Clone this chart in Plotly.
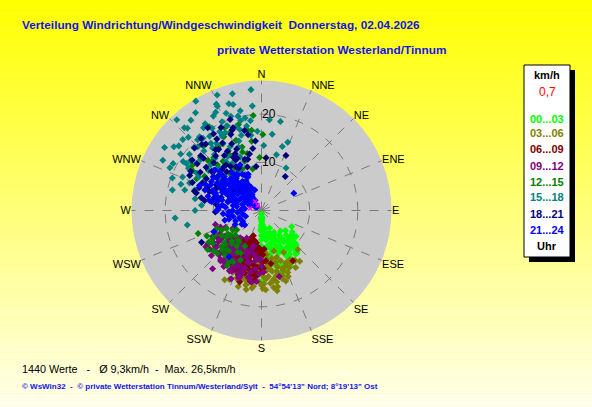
import plotly.graph_objects as go

W, H = 592, 407

# wind direction (deg) / speed (km/h) per 3-hour block
lime_dir = [180, 178, 181, 179, 180, 177, 182, 176, 180, 179,
            170, 165, 160, 155, 150, 145, 140, 135, 130, 125,
            168, 162, 158, 152, 147, 142, 138, 172, 166, 160,
            156, 150, 144, 137, 175, 170, 163, 157, 152, 148,
            118, 136, 145, 167, 179, 185, 190, 172, 155, 140,
            178, 181, 177, 174, 171, 164, 159, 153, 146, 141,
            139, 134, 149, 157, 162, 169, 174, 152, 158, 166,
            144, 132, 127, 161, 183,
            178, 180, 182, 175, 168, 160, 154, 148, 143, 138,
            133, 128, 171, 165, 157, 151, 146, 140, 135, 180,
            179, 176, 173, 163, 156]
lime_spd = [0.7, 1.2, 1.8, 2.4, 3.0, 3.6, 4.2, 4.8, 5.2, 2.8,
            4.5, 5.5, 6.0, 6.8, 7.5, 8.0, 8.8, 7.2, 6.5, 7.8,
            7.8, 8.5, 9.5, 10.2, 10.8, 11.5, 9.8, 10.5, 11.8, 12.5,
            6.5, 5.2, 6.2, 5.8, 9.0, 12.8, 13.5, 8.2, 9.0, 12.0,
            7.1, 8.5, 10.1, 5.9, 14.5, 11.0, 9.5, 3.5, 4.0, 11.2,
            2.0, 3.3, 4.4, 5.8, 6.2, 7.0, 7.2, 8.2, 9.2, 9.5,
            10.5, 9.8, 11.8, 12.2, 10.8, 9.5, 8.0, 13.0, 6.8, 8.8,
            7.0, 8.0, 9.0, 13.8, 7.2,
            1.5, 2.2, 3.9, 3.0, 4.0, 5.0, 5.8, 6.8, 7.8, 8.2,
            8.8, 8.2, 7.5, 8.0, 9.0, 11.0, 12.5, 11.5, 10.2, 6.0,
            7.5, 10.2, 11.5, 11.8, 13.0]

olive_dir = [208, 191, 169, 143, 137, 207, 171, 175, 180, 185,
             160, 165, 170, 195, 200, 178, 182, 188, 155, 150,
             162, 173, 186, 198, 203, 168, 158, 146, 152, 176,
             190, 184, 166, 174, 196, 212, 200, 180, 163, 157,
             172, 178, 183, 187, 193, 164, 168, 176, 181, 189,
             194, 199, 205, 159, 154, 149, 167, 174, 186, 179,
             171, 162, 191, 197, 183,
             160, 165, 170, 175, 180, 185, 190, 195, 200, 205,
             163, 168, 173, 178, 188, 193, 198, 203, 156, 151,
             177, 182, 187, 192, 171, 166, 161, 197, 184, 174]
olive_spd = [16.3, 16.7, 17.0, 13.2, 11.1, 13.9, 11.5, 12.5, 13.0, 12.2,
             12.8, 13.5, 14.5, 11.5, 12.0, 10.5, 9.8, 10.8, 12.0, 11.8,
             10.2, 9.2, 13.8, 13.2, 10.8, 15.2, 14.8, 12.5, 9.8, 8.5,
             9.5, 11.0, 11.2, 13.8, 14.5, 12.8, 9.2, 15.5, 8.8, 14.0,
             12.2, 13.8, 11.8, 12.8, 14.8, 12.2, 10.2, 14.2, 11.2, 13.2,
             12.2, 15.2, 14.2, 11.2, 13.2, 13.8, 13.8, 10.2, 15.8, 16.2,
             14.8, 14.2, 12.0, 10.8, 10.4,
             13.2, 11.2, 12.8, 11.8, 12.8, 13.8, 15.2, 13.8, 14.8, 15.8,
             14.8, 16.2, 15.2, 15.2, 14.2, 12.8, 12.8, 13.0, 12.5, 12.5,
             16.5, 14.8, 16.2, 15.8, 16.2, 13.0, 15.5, 16.5, 11.0, 11.0]

maroon_dir = [194, 190, 198, 202, 186, 210, 215, 188, 192, 200,
              196, 205, 183, 178, 208, 212, 195, 199, 187, 203,
              197, 175, 170, 220, 224, 193, 201, 189, 206, 148,
              198, 185, 191, 207, 213, 180, 200, 176,
              190, 194, 198, 202, 206, 186, 182, 195, 200, 210,
              204, 192, 188, 196, 208, 184, 199, 214, 218, 178,
              193, 197, 201, 187, 191, 205, 209, 185, 189, 203,
              181, 184, 187, 190, 193, 196, 199, 202, 205, 208,
              211, 214, 217, 183, 189, 195, 201, 207, 213, 219,
              186, 192, 198, 204, 210, 179, 185, 191, 197, 203]
maroon_spd = [8.1, 9.0, 7.5, 8.8, 10.0, 9.5, 8.2, 11.5, 6.5, 10.8,
              12.0, 7.0, 7.8, 9.2, 11.8, 12.5, 13.5, 6.2, 12.8, 9.8,
              15.5, 10.5, 11.2, 10.2, 8.5, 10.8, 11.2, 8.5, 13.2, 12.3,
              5.5, 13.8, 6.8, 7.8, 10.5, 12.2, 14.2, 8.0,
              7.2, 9.8, 10.2, 7.2, 9.0, 8.8, 10.2, 11.8, 12.8, 10.8,
              11.2, 12.5, 13.2, 8.8, 7.5, 11.8, 9.5, 11.2, 9.8, 12.0,
              10.8, 13.0, 6.2, 9.8, 7.8, 12.2, 8.2, 10.0, 14.8, 13.5,
              8.5, 9.5, 12.2, 13.8, 8.2, 7.2, 11.8, 9.8, 10.8, 12.8,
              9.2, 12.8, 11.2, 13.2, 6.8, 10.2, 13.2, 9.2, 7.2, 8.2,
              14.5, 11.2, 12.8, 8.2, 11.2, 10.8, 7.8, 14.2, 8.2, 6.8]

purple_dir = [233, 253, 165, 200, 210, 220, 205, 215, 225, 195,
              190, 230, 240, 212, 218, 198, 185, 228, 236, 208,
              202, 222, 245, 192, 180, 214, 204, 226, 238, 197,
              188, 216, 234, 206, 178, 248, 220,
              196, 203, 211, 219, 227, 231, 207, 213, 221, 199,
              194, 186, 217, 224, 209, 201, 235, 242, 229, 191,
              182, 205, 214, 223, 237,
              187, 193, 199, 205, 211, 217, 223, 229, 235, 241,
              184, 190, 196, 202, 208, 214, 220, 226, 232, 238,
              181, 189, 197, 209, 215, 221, 227, 233, 239, 246]
purple_spd = [13.4, 10.0, 14.2, 9.5, 10.5, 11.0, 8.0, 8.8, 12.5, 11.2,
              13.0, 9.0, 10.5, 12.8, 7.2, 14.5, 9.8, 14.0, 12.0, 6.5,
              12.2, 11.8, 8.2, 7.5, 11.5, 9.5, 15.5, 7.5, 7.0, 10.2,
              15.0, 13.2, 11.0, 14.0, 12.8, 9.2, 15.8,
              9.2, 10.8, 12.0, 13.5, 9.8, 11.8, 13.2, 10.0, 8.5, 12.8,
              8.2, 12.2, 11.5, 12.8, 9.2, 13.8, 10.2, 11.5, 8.2, 14.2,
              13.2, 11.8, 14.0, 10.5, 13.8,
              10.5, 11.2, 14.8, 12.8, 8.2, 12.8, 9.2, 12.8, 9.2, 9.8,
              14.8, 9.2, 12.5, 8.8, 14.2, 10.8, 13.2, 10.5, 12.2, 13.2,
              10.2, 14.8, 13.5, 11.8, 9.8, 9.8, 11.2, 8.8, 10.8, 10.8]

green_dir = [227, 227, 242, 203, 215, 235, 220, 230, 210, 245,
             238, 225, 218, 232, 248, 212, 236, 205, 250, 222,
             305, 315, 320, 330, 340, 345, 350, 355, 310, 325,
             335, 300, 318, 342, 352, 328, 312, 338, 322, 296,
             1, 358, 348, 332, 308,
             224, 229, 233, 219, 214, 240, 244, 209, 226, 236,
             316, 326, 336, 306, 346, 321, 311, 331, 341, 301,
             221, 231, 239, 246, 216, 206, 212, 228, 234, 243,
             303, 313, 323, 333, 343, 353, 298, 308, 318, 328]
green_spd = [10.5, 7.5, 11.0, 11.2, 9.0, 8.5, 12.0, 13.0, 10.0, 12.5,
             9.8, 11.5, 7.8, 6.5, 10.0, 12.8, 12.2, 8.2, 14.0, 9.2,
             12.0, 14.5, 10.0, 13.5, 15.5, 18.5, 17.0, 19.8, 8.5, 11.5,
             9.5, 16.5, 18.0, 12.8, 14.5, 20.5, 11.0, 17.5, 13.0, 15.0,
             15.8, 11.0, 8.8, 7.0, 6.2,
             8.8, 10.2, 9.2, 10.8, 12.2, 11.8, 9.2, 12.2, 12.8, 7.2,
             13.2, 16.0, 18.8, 11.2, 12.2, 9.2, 16.8, 14.2, 10.8, 13.8,
             10.8, 8.2, 12.8, 10.8, 8.0, 9.8, 13.5, 11.2, 13.8, 8.2,
             17.2, 15.2, 12.2, 17.2, 13.8, 16.8, 10.2, 9.8, 14.8, 10.5]

teal_dir = [329, 339, 346, 355, 317, 290, 259, 329, 342, 345,
            5, 12, 21, 315, 302, 321, 288, 291, 306, 335,
            325, 318, 310, 300, 340, 350, 332, 312, 296, 338,
            322, 308, 345, 328, 352, 2, 315, 334, 320, 305,
            298, 343, 326, 313, 337, 30, 15, 280, 270, 330,
            348, 318, 324, 336, 310,
            300, 305, 310, 315, 320, 325, 330, 335, 340, 345,
            350, 355, 295, 285, 318, 322, 328, 332, 312, 308,
            302, 298, 292, 342, 338, 346, 326, 316, 306, 290,
            283, 287, 293, 297, 303, 307, 313, 317, 323, 327,
            333, 337, 343, 347, 353, 357, 8, 18, 275, 265]
teal_spd = [26.5, 25.7, 25.0, 25.2, 25.8, 19.7, 15.7, 19.9, 20.6, 17.4,
            18.9, 18.9, 15.2, 18.7, 18.4, 19.3, 17.6, 16.0, 16.7, 22.5,
            21.0, 14.5, 13.0, 15.5, 14.0, 19.5, 17.5, 22.0, 13.5, 12.0,
            16.5, 19.0, 22.8, 11.5, 15.8, 13.5, 12.5, 14.8, 20.0, 18.0,
            20.8, 18.2, 16.8, 10.5, 23.5, 10.2, 12.0, 14.0, 13.8, 9.5,
            21.2, 23.0, 12.5, 20.2, 11.0,
            17.5, 20.5, 16.5, 21.5, 15.2, 18.8, 16.0, 17.8, 21.5, 16.2,
            17.8, 21.8, 21.0, 16.5, 19.8, 23.8, 13.2, 18.5, 14.2, 21.8,
            19.2, 14.8, 15.5, 15.2, 19.0, 20.2, 24.5, 17.2, 22.5, 12.5,
            19.0, 14.5, 17.8, 23.0, 24.0, 13.8, 19.2, 23.5, 17.5, 21.5,
            22.0, 24.0, 23.2, 19.2, 18.8, 16.5, 16.0, 14.0, 12.5, 18.0]

navy_dir = [341, 296, 35, 24, 242, 268, 320, 330, 310, 315,
            325, 335, 305, 300, 345, 350, 355, 312, 322, 338,
            290, 285, 318, 328, 308, 332, 342, 302, 316, 326,
            280, 275, 352, 5, 310, 322, 336, 296, 305, 318,
            300, 310, 320, 330, 340, 315, 325, 335, 305, 295,
            312, 328, 318, 308, 298, 322, 332, 342, 290, 282,
            338, 348, 326, 316, 306, 296, 286, 320, 330, 310,
            285, 292, 299, 306, 313, 320, 327, 334, 341, 348,
            288, 303, 318, 333, 278, 293, 308, 323, 338, 353]
navy_spd = [20.0, 16.6, 8.6, 12.5, 14.1, 9.6, 12.0, 10.5, 11.5, 14.0,
            15.5, 13.0, 9.5, 13.2, 11.0, 16.0, 14.5, 17.0, 8.5, 8.0,
            11.5, 10.2, 18.5, 17.5, 10.0, 12.5, 9.5, 15.0, 7.5, 13.8,
            12.0, 9.0, 13.0, 11.0, 6.5, 10.2, 15.2, 8.2, 7.2, 9.0,
            10.8, 12.8, 14.8, 16.2, 17.8, 9.2, 11.2, 12.0, 12.2, 13.5,
            16.2, 18.8, 6.2, 14.6, 9.0, 12.0, 10.0, 11.2, 13.8, 12.8,
            17.0, 12.0, 7.2, 11.8, 16.5, 10.5, 14.5, 18.0, 14.2, 8.0,
            14.0, 15.5, 16.8, 17.8, 19.0, 19.5, 20.5, 19.2, 18.2, 17.0,
            8.8, 9.8, 10.8, 11.8, 9.5, 12.2, 13.2, 15.8, 13.8, 9.2]

blue_dir = [292, 311, 335, 342, 255, 229, 288, 281, 62, 215, 246,
            300, 305, 310, 315, 320, 325, 330, 295, 285, 290,
            298, 303, 308, 313, 318, 323, 328, 333, 338, 280,
            275, 270, 265, 260, 250, 240, 235, 300, 310, 320,
            302, 312, 322, 332, 292, 282, 272, 262, 306, 316,
            326, 296, 286, 276, 300, 310, 320, 330, 340, 290,
            288, 293, 297, 301, 304, 307, 309, 312, 314, 317,
            319, 321, 324, 327, 329, 331, 334, 336, 286, 283,
            278, 291, 299, 306, 313, 318, 326, 294, 302, 311,
            289, 296, 303, 316, 323, 284, 279, 273, 268, 258,
            300, 308, 315, 292, 305, 297, 310, 318, 325, 287,
            284, 289, 294, 299, 304, 309, 314, 319, 324, 329,
            287, 292, 297, 302, 307, 312, 317, 322, 327, 332,
            280, 285, 290, 295, 300, 305, 310, 315, 320, 325,
            270, 265, 255, 248, 242, 275, 262, 252, 296, 306]
blue_spd = [13.9, 12.8, 10.5, 4.5, 7.9, 4.6, 6.9, 11.0, 7.6, 11.8, 10.8,
            5.0, 6.0, 7.0, 8.0, 7.5, 6.5, 5.5, 9.0, 8.5, 4.0,
            3.0, 3.5, 4.5, 5.5, 4.0, 3.0, 2.5, 6.0, 7.5, 6.0,
            7.5, 6.0, 5.0, 4.0, 3.5, 4.5, 5.0, 10.0, 9.5, 9.0,
            8.0, 10.5, 10.0, 8.5, 11.0, 9.5, 9.0, 7.0, 2.0, 2.5,
            3.5, 6.5, 5.5, 3.5, 7.0, 8.5, 4.0, 5.0, 8.0, 10.5,
            4.2, 5.8, 6.8, 7.8, 4.8, 6.2, 8.2, 3.2, 5.2, 6.8,
            8.8, 5.8, 4.8, 7.2, 3.8, 6.2, 8.2, 5.2, 7.2, 9.2,
            8.2, 10.2, 9.8, 11.5, 11.8, 6.2, 9.2, 5.2, 3.8, 4.2,
            6.2, 8.2, 9.2, 3.2, 2.8, 7.2, 5.2, 4.2, 6.8, 6.0,
            1.5, 1.2, 1.8, 2.5, 2.2, 8.8, 7.6, 7.8, 6.8, 10.0,
            5.5, 6.5, 7.5, 8.5, 9.5, 9.0, 7.5, 6.0, 5.0, 4.2,
            9.5, 10.8, 11.8, 10.8, 10.2, 11.2, 8.8, 7.0, 6.0, 6.8,
            10.5, 11.5, 12.5, 12.8, 12.0, 12.2, 10.0, 9.2, 7.2, 8.8,
            9.2, 8.0, 7.0, 5.8, 6.2, 8.8, 6.5, 4.8, 3.0, 2.8]

pink_dir = [280, 324, 322]
pink_spd = [2.4, 2.3, 1.3]

groups = [
    ('00...03', '#00FF00', lime_dir, lime_spd),
    ('03...06', '#808000', olive_dir, olive_spd),
    ('06...09', '#800000', maroon_dir, maroon_spd),
    ('09...12', '#800080', purple_dir, purple_spd),
    ('12...15', '#008000', green_dir, green_spd),
    ('15...18', '#008080', teal_dir, teal_spd),
    ('18...21', '#000080', navy_dir, navy_spd),
    ('21...24', '#0000FF', blue_dir, blue_spd),
]

compass = ['N', 'NNE', 'NE', 'ENE', 'E', 'ESE', 'SE', 'SSE',
           'S', 'SSW', 'SW', 'WSW', 'W', 'WNW', 'NW', 'NNW']
compass_deg = [i * 22.5 for i in range(16)]

fig = go.Figure()
for name, color, d, s in groups:
    fig.add_trace(go.Scatterpolar(
        theta=d, r=s, mode='markers', name=name,
        marker=dict(symbol='diamond', size=5.4, color=color),
        hoverinfo='skip'))

fig.add_trace(go.Scatterpolar(
    theta=pink_dir, r=pink_spd, mode='markers',
    marker=dict(symbol='x-thin', size=4, color='#FF00FF',
                line=dict(color='#FF00FF', width=1.5)),
    hoverinfo='skip'))

cx, cy, rad = 261.5, 210.5, 130
fig.update_layout(
    width=W, height=H,
    margin=dict(l=0, r=0, t=0, b=0),
    paper_bgcolor='#FFFF60',
    showlegend=False,
    font=dict(family='Liberation Sans, Arial', color='black'),
    polar=dict(
        domain=dict(x=[(cx - rad) / W, (cx + rad) / W],
                    y=[1 - (cy + rad) / H, 1 - (cy - rad) / H]),
        bgcolor='#CBCBCB',
        angularaxis=dict(
            direction='clockwise', rotation=90,
            tickmode='array', tickvals=compass_deg, ticktext=compass,
            ticks='', showline=False,
            gridcolor='#7A7A7A', griddash='dash', gridwidth=1,
            tickfont=dict(size=11, color='black')),
        radialaxis=dict(
            range=[0, 27], tickvals=[10, 20], ticks='',
            angle=90, tickangle=90, side='clockwise',
            showline=False,
            gridcolor='#7A7A7A', griddash='dash', gridwidth=1,
            tickfont=dict(size=12, color='black')),
    ),
)

# yellow -> cream background gradient
shapes = []
n = 60
for i in range(n):
    t = i / (n - 1)
    b = int(0 + 235 * t)
    shapes.append(dict(type='rect', xref='paper', yref='paper',
                       x0=0, x1=1, y0=1 - (i + 1) / n, y1=1 - i / n,
                       fillcolor=f'rgb(255,255,{b})', line_width=0,
                       layer='below'))


def px(x):
    return x / W


def py(y):
    return 1 - y / H


# legend box with shadow
shapes.append(dict(type='rect', xref='paper', yref='paper',
                   x0=px(529), x1=px(575), y0=py(262), y1=py(70),
                   fillcolor='black', line_width=0, layer='above'))
shapes.append(dict(type='rect', xref='paper', yref='paper',
                   x0=px(524), x1=px(570), y0=py(257), y1=py(65),
                   fillcolor='white', line=dict(color='black', width=1),
                   layer='above'))
fig.update_layout(shapes=shapes)

ann = []


def text(x, y, s, size, color, bold=False, anchor='left'):
    ann.append(dict(x=px(x), y=py(y), xref='paper', yref='paper',
                    text=f'<b>{s}</b>' if bold else s, showarrow=False,
                    xanchor=anchor, yanchor='middle',
                    font=dict(size=size, color=color,
                              family='Liberation Sans, Arial')))


text(20, 25, 'Verteilung Windrichtung/Windgeschwindigkeit  Donnerstag, 02.04.2026',
     11.8, '#1414E6', bold=True)
text(215, 50, 'private Wetterstation Westerland/Tinnum', 11.8, '#1414E6', bold=True)

text(547, 75, 'km/h', 11, 'black', bold=True, anchor='center')
text(547, 92, '0,7', 12, '#FF0000', anchor='center')
legend_y = [119, 133, 149, 166, 182, 197, 214, 230]
for (name, color, _, _), y in zip(groups, legend_y):
    text(547, y, name, 11, color, bold=True, anchor='center')
text(547, 246, 'Uhr', 11, 'black', bold=True, anchor='center')

text(20, 369, '1440 Werte   -   Ø 9,3km/h  -  Max. 26,5km/h', 10.8, 'black')
text(20, 386, '© WsWin32  -  © private Wetterstation Tinnum/Westerland/Sylt  -  '
     '54°54\'13" Nord; 8°19\'13" Ost', 8, '#1414E6', bold=True)

fig.update_layout(annotations=ann)

fig.write_html('out.html', config={'displayModeBar': False},
               post_script="document.body.style.margin='0';")
